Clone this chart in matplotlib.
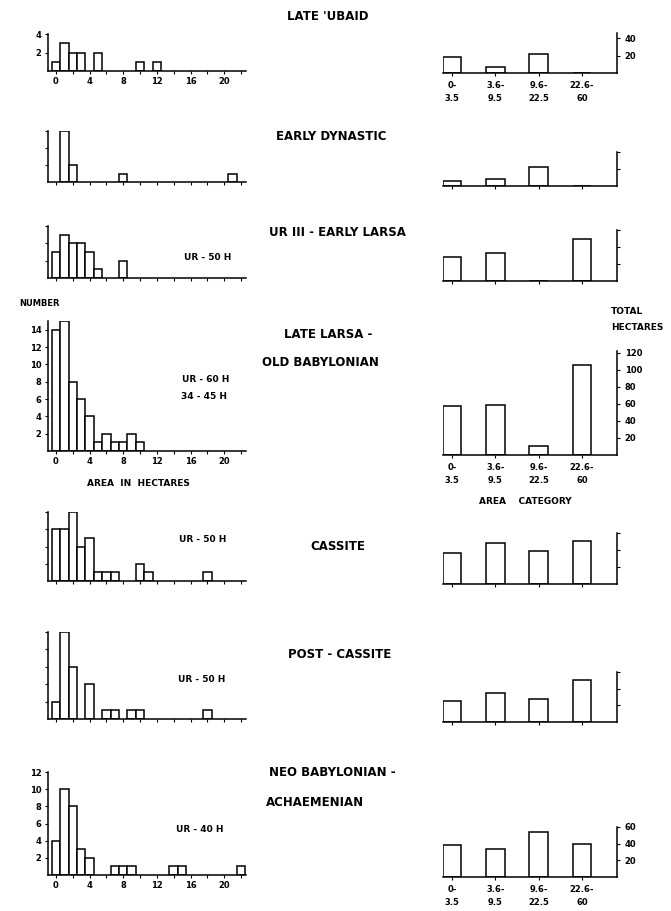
import matplotlib.pyplot as plt
from matplotlib.ticker import MultipleLocator

# site counts by area (hectares) for each period
ubaid_areas = [0, 1, 2, 3, 5, 10, 12]
ubaid_counts = [1, 3, 2, 2, 2, 1, 1]
ed_areas = [1, 2, 8, 21]
ed_counts = [6, 2, 1, 1]
ur3_areas = [0, 1, 2, 3, 4, 5, 8]
ur3_counts = [3, 5, 4, 4, 3, 1, 2]
ll_areas = [0, 1, 2, 3, 4, 5, 6, 7, 8, 9, 10]
ll_counts = [14, 15, 8, 6, 4, 1, 2, 1, 1, 2, 1]
cas_areas = [0, 1, 2, 3, 4, 5, 6, 7, 10, 11, 18]
cas_counts = [6, 6, 8, 4, 5, 1, 1, 1, 2, 1, 1]
pc_areas = [0, 1, 2, 4, 6, 7, 9, 10, 18]
pc_counts = [2, 10, 6, 4, 1, 1, 1, 1, 1]
nb_areas = [0, 1, 2, 3, 4, 7, 8, 9, 14, 15, 22]
nb_counts = [4, 10, 8, 3, 2, 1, 1, 1, 1, 1, 1]

# total hectares per area category
categories = ['0-\n3.5', '3.6-\n9.5', '9.6-\n22.5', '22.6-\n60']
ubaid_totals = [18, 7, 22, 0]
ed_totals = [6, 8, 22, 0]
ur3_totals = [28, 33, 0, 49]
ll_totals = [57, 59, 10, 106]
cas_totals = [36, 48, 39, 51]
pc_totals = [25, 35, 28, 50]
nb_totals = [39, 34, 54, 40]

titles = [["LATE 'UBAID"], ["EARLY DYNASTIC"], ["UR III - EARLY LARSA"],
          ["LATE LARSA -", "OLD BABYLONIAN"], ["CASSITE"], ["POST - CASSITE"],
          ["NEO BABYLONIAN -", "ACHAEMENIAN"]]
ur_notes = [[], [], ["UR - 50 H"], ["UR - 60 H", "34 - 45 H"], ["UR - 50 H"],
            ["UR - 50 H"], ["UR - 40 H"]]

hists = [(ubaid_areas, ubaid_counts), (ed_areas, ed_counts), (ur3_areas, ur3_counts),
         (ll_areas, ll_counts), (cas_areas, cas_counts), (pc_areas, pc_counts),
         (nb_areas, nb_counts)]
totals = [ubaid_totals, ed_totals, ur3_totals, ll_totals, cas_totals, pc_totals, nb_totals]

# layout in pixels
W, H = 671, 911
hist_base = [71, 182, 278, 451, 581, 719, 875]
hist_top = [34, 131, 226, 321, 512, 632, 772]
hist_ymax = [4, 6, 6, 15, 8, 10, 12]
bar_base = [73, 186, 281, 455, 584, 722, 877]
bar_top = [33, 152, 230, 351, 533, 672, 827]
bar_ymax = [46, 40, 60, 122, 60, 60, 60]
labelled = [True, False, False, True, False, False, True]
title_pos = [[(328, 16)], [(331, 137)], [(337, 233)], [(328, 334), (320, 362)],
             [(338, 547)], [(340, 655)], [(332, 773), (315, 803)]]
note_pos = [[], [], [(208, 258)], [(206, 380), (204, 397)], [(203, 540)],
            [(202, 679)], [(200, 829)]]

plt.rcParams['font.family'] = 'DejaVu Sans'
plt.rcParams['font.weight'] = 'bold'

fig = plt.figure(figsize=(W / 100, H / 100), dpi=100)


def px_axes(x0, x1, ytop, ybot):
    return fig.add_axes([x0 / W, 1 - ybot / H, (x1 - x0) / W, (ybot - ytop) / H])


def ftext(x, y, s, size=7.5, **kw):
    fig.text(x / W, 1 - y / H, s, ha='center', va='center', fontsize=size,
             fontweight='bold', **kw)


for i in range(7):
    # histogram of site sizes
    ax = px_axes(48, 246, hist_top[i], hist_base[i])
    areas, counts = hists[i]
    ax.bar(areas, counts, width=1, color='white', edgecolor='black', linewidth=1.1)
    ax.set_xlim(-0.95, 22.6)
    ax.set_ylim(0, hist_ymax[i])
    for s in ['top', 'right']:
        ax.spines[s].set_visible(False)
    for s in ['left', 'bottom']:
        ax.spines[s].set_linewidth(1.1)
    ax.xaxis.set_major_locator(MultipleLocator(4))
    ax.xaxis.set_minor_locator(MultipleLocator(2))
    ax.yaxis.set_major_locator(MultipleLocator(2))
    ax.tick_params(which='both', direction='out', length=2.5, width=0.8,
                   labelsize=6, pad=2)
    ax.set_xticks(range(0, 21, 4))
    ax.set_yticks(range(2, hist_ymax[i] + 1, 2))
    if not labelled[i]:
        ax.tick_params(labelleft=False, labelbottom=False)
    elif i == 0:
        ax.set_yticks([2, 4])

    # total hectares by category
    bx = px_axes(443, 617, bar_top[i], bar_base[i])
    bx.bar(range(4), totals[i], width=0.43, color='white', edgecolor='black',
           linewidth=1.1)
    bx.set_xlim(-0.21, 3.81)
    bx.set_ylim(0, bar_ymax[i])
    for s in ['top', 'left']:
        bx.spines[s].set_visible(False)
    for s in ['right', 'bottom']:
        bx.spines[s].set_linewidth(1.1)
    bx.yaxis.tick_right()
    bx.set_xticks(range(4))
    bx.set_xticklabels(categories, linespacing=1.6)
    bx.set_yticks(range(20, int(bar_ymax[i]) + 1, 20))
    bx.tick_params(direction='out', length=2.5, width=0.8, labelsize=6, pad=3)
    if not labelled[i]:
        bx.tick_params(labelright=False, labelbottom=False)

    for t, (x, y) in zip(titles[i], title_pos[i]):
        ftext(x, y, t, size=8.5)
    for t, (x, y) in zip(ur_notes[i], note_pos[i]):
        ftext(x, y, t, size=6.5)

ftext(39, 303, 'NUMBER', size=6)
ftext(138, 484, 'AREA  IN  HECTARES', size=6.5)
ftext(627, 312, 'TOTAL', size=6.5)
ftext(637, 328, 'HECTARES', size=6.5)
ftext(525, 502, 'AREA    CATEGORY', size=6.5)

plt.savefig('out.png', dpi=100)
